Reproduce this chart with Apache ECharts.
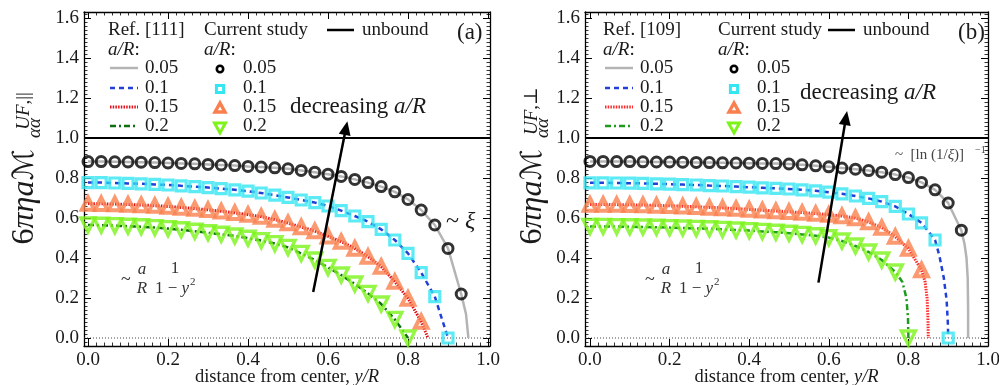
<!DOCTYPE html>
<html>
<head>
<meta charset="utf-8">
<script src="https://cdn.jsdelivr.net/npm/echarts@6.0.0/dist/echarts.min.js"></script>
<style>
  html, body { margin: 0; padding: 0; background: #fff; }
  #main { width: 999px; height: 385px; }
</style>
</head>
<body>
<div id="main"></div>
<script>
// sample positions y/R of the "current study" points
var yR = [0.000, 0.033, 0.067, 0.100, 0.133, 0.167, 0.200, 0.233, 0.267, 0.300,
          0.333, 0.367, 0.400, 0.433, 0.467, 0.500, 0.533, 0.567, 0.600, 0.633,
          0.667, 0.700, 0.733, 0.767, 0.800, 0.833, 0.867, 0.900, 0.933];

// panel (a): parallel
var a05 = [0.882,0.882,0.881,0.880,0.879,0.877,0.875,0.873,0.871,0.868,0.865,0.862,0.858,0.855,0.851,0.846,0.838,0.829,0.819,0.808,0.793,0.777,0.757,0.731,0.693,0.640,0.565,0.448,0.220];
var a10 = [0.777,0.777,0.775,0.773,0.771,0.768,0.765,0.761,0.757,0.752,0.747,0.741,0.734,0.725,0.714,0.703,0.690,0.677,0.660,0.637,0.610,0.582,0.543,0.490,0.423,0.327,0.207,0.000];
var a15 = [0.672,0.671,0.670,0.668,0.665,0.662,0.658,0.653,0.647,0.641,0.634,0.626,0.617,0.607,0.592,0.575,0.555,0.535,0.509,0.482,0.448,0.407,0.357,0.282,0.198,0.082];
var a20 = [0.565,0.564,0.562,0.559,0.556,0.552,0.547,0.541,0.534,0.526,0.519,0.510,0.499,0.487,0.472,0.453,0.423,0.390,0.353,0.315,0.270,0.223,0.170,0.093,0.000];
// end of the reference curves near the wall
var a05tail = [[0.945,0.12],[0.951,0]];
var a15tail = [[0.850,0]];

// panel (b): perpendicular
var b05 = [0.883,0.883,0.882,0.882,0.881,0.880,0.880,0.879,0.878,0.877,0.876,0.875,0.874,0.873,0.872,0.870,0.866,0.861,0.856,0.850,0.844,0.837,0.829,0.817,0.802,0.778,0.741,0.675,0.539];
var b10 = [0.776,0.776,0.775,0.774,0.773,0.771,0.769,0.767,0.765,0.762,0.760,0.757,0.754,0.751,0.748,0.745,0.741,0.736,0.729,0.721,0.710,0.698,0.682,0.658,0.620,0.576,0.490,0.000];
var b15 = [0.668,0.668,0.667,0.666,0.665,0.663,0.661,0.659,0.656,0.653,0.650,0.647,0.643,0.639,0.635,0.631,0.627,0.622,0.617,0.610,0.600,0.580,0.552,0.507,0.447,0.340];
var b20 = [0.558,0.558,0.557,0.556,0.555,0.554,0.552,0.550,0.548,0.546,0.543,0.540,0.537,0.533,0.529,0.524,0.518,0.511,0.502,0.485,0.460,0.430,0.390,0.330,0.000];
var b05tail = [[0.941,0.47],[0.946,0.40],[0.949,0.30],[0.950,0.15],[0.950,0]];
var b10tail = [[0.878,0.41],[0.889,0.30],[0.896,0.19],[0.899,0.08],[0.900,0]];
var b15tail = [[0.842,0.28],[0.847,0.20],[0.849,0.10],[0.850,0]];
var b20tail = [[0.785,0.28],[0.795,0.20],[0.799,0.10],[0.800,0]];

// "decreasing a/R" arrows  [start, end]
var arrowA = [[0.563,0.23],[0.645,1.05]];
var arrowB = [[0.574,0.277],[0.643,1.10]];

var xTicks = [0, 0.2, 0.4, 0.6, 0.8, 1.0];
var yTicks = [0, 0.2, 0.4, 0.6, 0.8, 1.0, 1.2, 1.4, 1.6];
var xMinor = [], yMinor = [];
for (var i = 0; i <= 50; i++) xMinor.push(Math.round(i * 2) / 100);
for (var j = -2; j <= 81; j++) yMinor.push(Math.round(j * 2) / 100);

var SERIF = '"Liberation Serif", "DejaVu Serif", serif';
var TXT = '#1a1a1a';

var myChart = echarts.init(document.getElementById('main'), null, {renderer: 'canvas'});

function buildAxes(g, xr, yr) {
  var xa = [], ya = [];
  var line = {show: true, onZero: false, lineStyle: {color: '#000', width: 1.3}};
  var noLine = {show: false, onZero: false};
  var lab = {show: true, fontFamily: SERIF, fontSize: 19, color: TXT, margin: 5,
             formatter: function (v) { return v.toFixed(1); }};
  function major(vals) { return {show: true, inside: true, length: 7, customValues: vals, lineStyle: {color: '#000', width: 1}}; }
  function minor(vals) { return {show: true, inside: true, length: 3.5, customValues: vals, lineStyle: {color: '#000', width: 0.8}}; }
  var bx = {gridIndex: g, type: 'value', min: xr[0], max: xr[1], splitLine: {show: false}, axisLabel: {show: false}};
  var by = {gridIndex: g, type: 'value', min: yr[0], max: yr[1], splitLine: {show: false}, axisLabel: {show: false}};
  xa.push(Object.assign({}, bx, {position: 'bottom', axisLine: line, axisTick: major(xTicks),
    axisLabel: Object.assign({customValues: xTicks}, lab),
    name: '{n|distance from center, }{i|y/R}', nameLocation: 'middle', nameGap: 22, nameMoveOverlap: false,
    nameTextStyle: {rich: {n: {fontFamily: SERIF, fontSize: 18.5, color: TXT},
                           i: {fontFamily: SERIF, fontSize: 18.5, fontStyle: 'italic', color: TXT}}}}));
  xa.push(Object.assign({}, bx, {position: 'bottom', axisLine: noLine, axisTick: minor(xMinor)}));
  xa.push(Object.assign({}, bx, {position: 'top', axisLine: line, axisTick: major(xTicks)}));
  xa.push(Object.assign({}, bx, {position: 'top', axisLine: noLine, axisTick: minor(xMinor)}));
  ya.push(Object.assign({}, by, {position: 'left', axisLine: line, axisTick: major(yTicks),
    axisLabel: Object.assign({customValues: yTicks}, lab)}));
  ya.push(Object.assign({}, by, {position: 'left', axisLine: noLine, axisTick: minor(yMinor)}));
  ya.push(Object.assign({}, by, {position: 'right', axisLine: line, axisTick: major(yTicks)}));
  ya.push(Object.assign({}, by, {position: 'right', axisLine: noLine, axisTick: minor(yMinor)}));
  return {x: xa, y: ya};
}

var axA = buildAxes(0, [-0.01, 1.005], [-0.04, 1.63]);
var axB = buildAxes(1, [-0.0125, 1.0], [-0.04, 1.63]);

function pts(vals) { return vals.map(function (v, k) { return [yR[k], v]; }); }
function refData(vals, tail) {
  var p = pts(vals);
  if (tail) {
    p = p.filter(function (q) { return q[0] < tail[0][0]; }).concat(tail);
  }
  return p;
}
function refLine(ax, vals, tail, color, width, dash) {
  return {type: 'line', xAxisIndex: ax, yAxisIndex: ax, data: refData(vals, tail), symbol: 'none',
          lineStyle: {color: color, width: width, type: dash || 'solid'}, z: 2, silent: true};
}
function marks(ax, vals, sym, size, color, bw, rot) {
  return {type: 'scatter', xAxisIndex: ax, yAxisIndex: ax, data: pts(vals), symbol: sym, symbolSize: size,
          symbolRotate: rot || 0, itemStyle: {color: 'rgba(0,0,0,0)', borderColor: color, borderWidth: bw}, z: 3, silent: true};
}
function frameLines(ax, xr, arrow) {
  return [
    {type: 'line', xAxisIndex: ax, yAxisIndex: ax, data: [[xr[0], 0], [xr[1], 0]], symbol: 'none',
     lineStyle: {color: '#333', width: 0.9, type: [1, 2]}, z: 1, silent: true},
    {type: 'line', xAxisIndex: ax, yAxisIndex: ax, data: [[xr[0], 1], [xr[1], 1]], symbol: 'none',
     lineStyle: {color: '#000', width: 2.2}, z: 4, silent: true,
     markLine: {silent: true, symbol: ['none', 'triangle'], symbolSize: [12, 14], label: {show: false},
                lineStyle: {color: '#000', width: 2.5, type: 'solid'}, animation: false,
                data: [[{coord: arrow[0]}, {coord: arrow[1]}]]}}
  ];
}

var series = [].concat(
  frameLines(0, [-0.01, 1.005], arrowA),
  [refLine(0, a05, a05tail, '#b4b4b4', 2.5),
   refLine(0, a10, null, '#2040d8', 2.5, [5, 4]),
   refLine(0, a15, a15tail, '#e0101a', 3, [1.5, 1.2]),
   refLine(0, a20, null, '#0f6e0f', 2.5, [6, 3, 2, 3]),
   marks(0, a05, 'circle', 10, '#000', 3),
   marks(0, a10, 'rect', 10, '#33e6f2', 3.2),
   marks(0, a15, 'triangle', 12.5, '#fa7f4e', 4),
   marks(0, a20, 'triangle', 14, '#7cf41a', 3.4, 180)],
  frameLines(4, [-0.0125, 1.0], arrowB),
  [refLine(4, b05, b05tail, '#b4b4b4', 2.5),
   refLine(4, b10, b10tail, '#2040d8', 2.5, [5, 4]),
   refLine(4, b15, b15tail, '#ff2a2a', 3, [1.5, 1.2]),
   refLine(4, b20, b20tail, '#1f9a1f', 2.5, [6, 3, 2, 3]),
   marks(4, b05, 'circle', 10, '#000', 3),
   marks(4, b10, 'rect', 10, '#33e6f2', 3.2),
   marks(4, b15, 'triangle', 12.5, '#fa7f4e', 4),
   marks(4, b20, 'triangle', 14, '#7cf41a', 3.4, 180)]
);

// ---- texts and legend drawn with graphic elements ----
function T(x, y, text, size, extra) {
  return {type: 'text', x: x, y: y, silent: true, z: 10,
          style: Object.assign({text: text, fontFamily: SERIF, fontSize: size, fill: TXT, align: 'left', verticalAlign: 'middle'}, extra || {})};
}
function rich(size, color) {
  color = color || TXT;
  return {n: {fontFamily: SERIF, fontSize: size, fill: color},
          i: {fontFamily: SERIF, fontSize: size, fontStyle: 'italic', fill: color}};
}
function L(x1, y1, x2, y2, color, w, dash) {
  return {type: 'line', silent: true, z: 10, shape: {x1: x1, y1: y1, x2: x2, y2: y2},
          style: {stroke: color, lineWidth: w, lineDash: dash || null}};
}

var legRows = [68, 88, 107, 126];
var legLabels = ['0.05', '0.1', '0.15', '0.2'];

function legend(o, refName, redCol, greenCol, tag) {
  var g = [];
  g.push(T(o.ref, 30, refName, 19));
  g.push(T(o.ref, 50, '{i|a/R}{n|:}', 19, {rich: rich(19)}));
  var st = [['#b4b4b4', 2.5, null], ['#2040d8', 2.5, [5, 4]], [redCol, 3, [1.5, 1.2]], [greenCol, 2.5, [6, 3, 2, 3]]];
  for (var k = 0; k < 4; k++) {
    g.push(L(o.ref + 2, legRows[k], o.ref + 30, legRows[k], st[k][0], st[k][1], st[k][2]));
    g.push(T(o.ref + 37, legRows[k], legLabels[k], 19));
    g.push(T(o.cur + 39, legRows[k], legLabels[k], 19));
  }
  g.push(T(o.cur, 30, 'Current study', 19));
  g.push(T(o.cur, 50, '{i|a/R}{n|:}', 19, {rich: rich(19)}));
  var mx = o.cur + 16;
  g.push({type: 'circle', silent: true, z: 10, shape: {cx: mx, cy: legRows[0] + 1, r: 3.2}, style: {fill: 'none', stroke: '#000', lineWidth: 2.6}});
  g.push({type: 'rect', silent: true, z: 10, shape: {x: mx - 3.6, y: legRows[1] + 1 - 3.6, width: 7.2, height: 7.2}, style: {fill: 'none', stroke: '#33e6f2', lineWidth: 3}});
  g.push({type: 'polygon', silent: true, z: 10, shape: {points: [[mx, legRows[2] - 4], [mx - 5, legRows[2] + 5], [mx + 5, legRows[2] + 5]]}, style: {fill: 'none', stroke: '#fa7f4e', lineWidth: 3.4, lineJoin: 'miter'}});
  g.push({type: 'polygon', silent: true, z: 10, shape: {points: [[mx - 5.5, legRows[3] - 3], [mx + 5.5, legRows[3] - 3], [mx, legRows[3] + 7]]}, style: {fill: 'none', stroke: '#7cf41a', lineWidth: 3, lineJoin: 'miter'}});
  g.push(L(o.unb, 30, o.unb + 27, 30, '#000', 2.5));
  g.push(T(o.unb + 35, 30, 'unbound', 19));
  g.push(T(o.tag, 33, tag, 23));
  return g;
}

function yTitle(x, y, supText) {
  return [
    {type: 'text', x: x, y: y, rotation: Math.PI / 2, silent: true, z: 10,
     style: {text: '{n|6}{i|πηa}{m|ℳ}', align: 'center', verticalAlign: 'middle',
             rich: {n: {fontFamily: SERIF, fontSize: 32, fill: TXT},
                    i: {fontFamily: SERIF, fontSize: 32, fontStyle: 'italic', fill: TXT},
                    m: {fontFamily: '"DejaVu Serif", "DejaVu Sans", serif', fontSize: 29, fontStyle: 'italic', fill: TXT}}}},
    {type: 'text', x: x - 1, y: y - 86, rotation: Math.PI / 2, silent: true, z: 10,
     style: {text: supText, align: 'center', verticalAlign: 'middle', rich: rich(19)}},
    {type: 'text', x: x + 10, y: y - 69, rotation: Math.PI / 2, silent: true, z: 10,
     style: {text: '{i|αα}', align: 'center', verticalAlign: 'middle', rich: rich(19)}}
  ];
}

function fraction(x, y) {
  var c = '#333';
  return [
    T(x, y + 1, '~', 18, {fill: c}),
    T(x + 21, y - 9, 'a', 17, {fill: c, fontStyle: 'italic', align: 'center'}),
    T(x + 21, y + 10, 'R', 17, {fill: c, fontStyle: 'italic', align: 'center'}),
    T(x + 54, y - 10, '1', 17, {fill: c, align: 'center'}),
    T(x + 34, y + 10, '{n|1 − }{i|y}', 17, {rich: rich(17, c)}),
    T(x + 69, y + 3, '2', 11, {fill: c})
  ];
}

var graphic = [].concat(
  legend({ref: 108, cur: 204, unb: 327, tag: 457}, 'Ref. [111]', '#e0101a', '#0f6e0f', '(a)'),
  legend({ref: 603, cur: 718, unb: 828, tag: 958}, 'Ref. [109]', '#ff2a2a', '#1f9a1f', '(b)'),
  yTitle(25, 197, '{i|UF}{n|,||}'),
  yTitle(533, 197, '{i|UF}{n|,⊥}'),
  [T(290, 107, '{n|decreasing }{i|a/R}', 23, {rich: rich(23)}),
   T(800, 93, '{n|decreasing }{i|a/R}', 23, {rich: rich(23)}),
   T(446, 222, '{n|~ }{i|ξ}', 24, {rich: rich(24)}),
   T(895, 155, '{n|~  [ln (1/}{i|ξ}{n|)]}', 15, {rich: rich(15, '#444')}),
   T(975, 150, '−1', 10, {fill: '#444'})],
  fraction(121, 279),
  fraction(645, 279)
);

var option = {
  animation: false,
  backgroundColor: '#fff',
  grid: [
    {left: 84, top: 12, width: 406, height: 334, outerBoundsMode: 'none', containLabel: false},
    {left: 585, top: 12, width: 403, height: 334, outerBoundsMode: 'none', containLabel: false}
  ],
  xAxis: axA.x.concat(axB.x),
  yAxis: axA.y.concat(axB.y),
  series: series,
  graphic: graphic
};
myChart.setOption(option);
</script>
</body>
</html>
